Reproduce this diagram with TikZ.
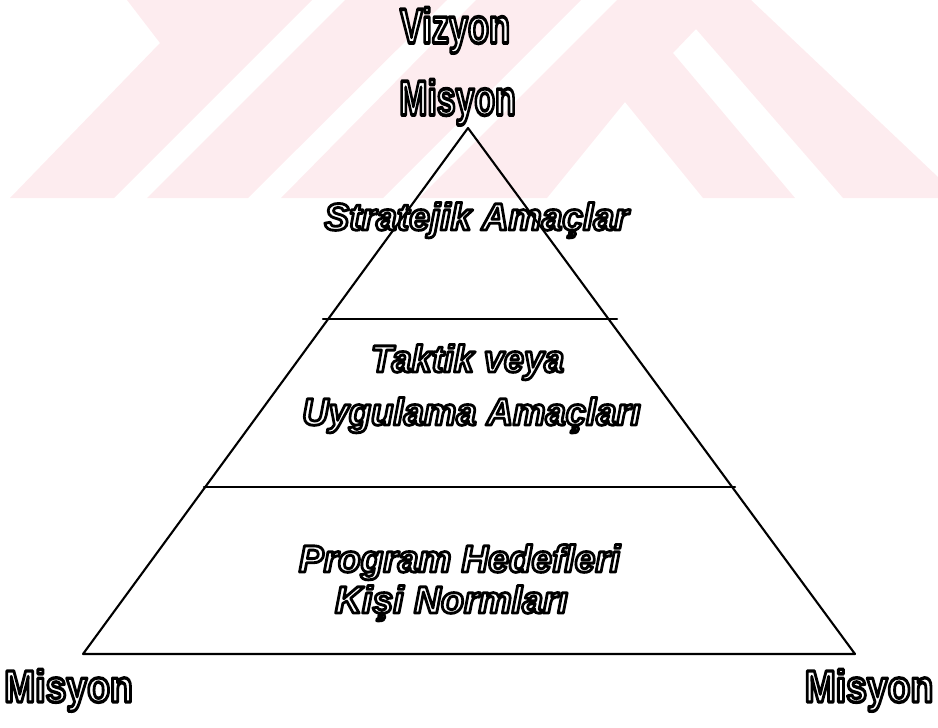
\documentclass[tikz,border=0pt]{standalone}
\usepackage{fontspec}
\setmainfont{Liberation Sans}[Ligatures=CommonOff]
% heavy stroked faces used for the hollow lettering
\newfontfamily\hollowupfont{Liberation Sans Bold}[FakeBold=7.5, Ligatures=CommonOff]
\newfontfamily\hollowitfont{Liberation Sans Bold Italic}[FakeBold=7.5, Ligatures=CommonOff]
\usepackage{graphicx}
\usetikzlibrary{calc}

\definecolor{wmpink}{RGB}{253,236,239}

% hollow lettering: white fill, black round-joined stroke, squeezed horizontally by #1
\newcommand\hollowtxt[2]{\special{pdf:literal direct 0 G 1 j}\scalebox{#1}[1]{#2}}

\tikzset{
  hollow/.style={text=white, inner sep=0pt, anchor=base},
  uprt/.style={hollow, font=\hollowupfont\fontsize{49}{49}\selectfont},
  uprtsmall/.style={hollow, font=\hollowupfont\fontsize{45}{45}\selectfont},
  slant/.style={hollow, font=\hollowitfont\fontsize{38}{38}\selectfont},
  edge/.style={line width=2.1pt, line cap=round, line join=round},
  band/.style={fill=wmpink, draw=none},
}

\begin{document}
\begin{tikzpicture}[x=1pt, y=-1pt]
\useasboundingbox (0,0) rectangle (938,728);

% faint striped background band
\fill[band] (127,0) -- (160,43) -- (10,198) -- (114,198) -- (312,0) -- cycle;
\fill[band] (345,0) -- (147,198) -- (248,198) -- (447,0) -- cycle;
\fill[band] (476,0) -- (281,198) -- (383,198) -- (581,0) -- cycle;
\fill[band] (419,198) -- (617,0) -- (751,0) -- (938,177) -- (938,198)
  -- (843,198) -- (696,29) -- (673,53) -- (795,198) -- (703,198)
  -- (625,102) -- (547,198) -- cycle;

% labels
\node[uprt] (vizyon) at (455,43) {\hollowtxt{0.70}{Vizyon}};
\node[uprt] (misyontop) at (457.5,115) {\hollowtxt{0.69}{Misyon}};
\node[slant] (strat) at (476.5,230) {\hollowtxt{0.98}{Stratejik Amaçlar}};
\node[slant] (taktik) at (467.5,372) {\hollowtxt{0.95}{Taktik veya}};
\node[slant] (uygulama) at (471.5,425) {\hollowtxt{0.96}{Uygulama Amaçları}};
\node[slant] (program) at (459.5,572) {\hollowtxt{0.975}{Program Hedefleri}};
\node[slant] (kisi) at (451.5,613) {\hollowtxt{0.985}{Kişi Normları}};
\node[uprtsmall] (misyonleft) at (68.5,702) {\hollowtxt{0.83}{Misyon}};
\node[uprtsmall] (misyonright) at (869,702) {\hollowtxt{0.83}{Misyon}};

% pyramid and its two dividing lines
\coordinate (apex) at (468,128);
\coordinate (bl) at (83,654);
\coordinate (br) at (855,654);
\coordinate (d1l) at (323,319);
\coordinate (d1r) at (617,319);
\coordinate (d2l) at (204,487);
\coordinate (d2r) at (735,487);
\draw[edge] (apex) -- (bl) -- (br) -- cycle;
\draw[edge] (d1l) -- (d1r);
\draw[edge] (d2l) -- (d2r);
\end{tikzpicture}
\end{document}
